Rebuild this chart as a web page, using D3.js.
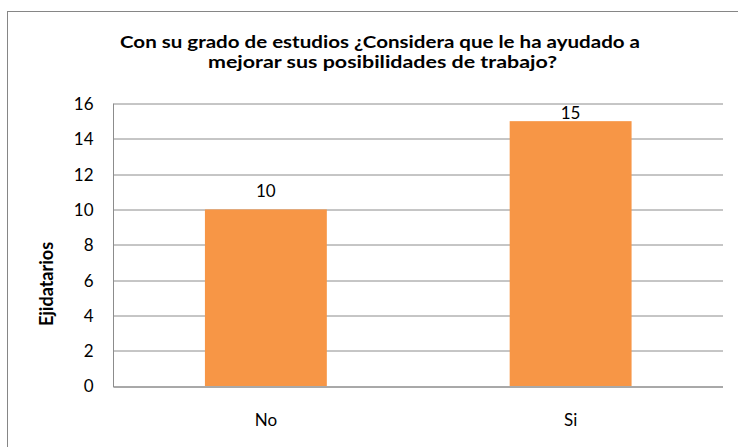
<!DOCTYPE html>
<html>
<head>
<meta charset="utf-8">
<script src="https://cdn.jsdelivr.net/npm/d3@7"></script>
<style>
  body { margin: 0; background: #fff; }
  text { font-family: Lato, "Open Sans", sans-serif; }
</style>
</head>
<body>
<svg width="738" height="447"></svg>
<script>
// data
var categories = ["No", "Si"];
var values = [10, 15];
var yTicks = [0, 2, 4, 6, 8, 10, 12, 14, 16];
var titleLines = ["Con su grado de estudios ¿Considera que le ha ayudado a",
                  "mejorar sus posibilidades de trabajo?"];
var yTitle = "Ejidatarios";

var svg = d3.select("svg"),
    width = +svg.attr("width"),
    height = +svg.attr("height");

var margin = {top: 103.5, right: 15, bottom: 61, left: 113.5};
var plotW = width - margin.left - margin.right,
    plotH = height - margin.top - margin.bottom;

// outer chart border (runs past the bottom and right of the picture)
svg.append("rect")
    .attr("x", 7.5).attr("y", 11.5)
    .attr("width", 760).attr("height", 460)
    .attr("fill", "none")
    .attr("stroke", "#868686")
    .attr("stroke-width", 1);

var x = d3.scaleBand()
    .domain(categories)
    .range([0, plotW])
    .padding(0);

var y = d3.scaleLinear()
    .domain([0, 16])
    .range([plotH, 0]);

var g = svg.append("g")
    .attr("transform", "translate(" + margin.left + "," + margin.top + ")");

// gridlines
g.append("g")
    .selectAll("line")
    .data(yTicks)
    .enter().append("line")
      .attr("x1", 0)
      .attr("x2", plotW)
      .attr("y1", function(d) { return Math.round(y(d)) + 0.5; })
      .attr("y2", function(d) { return Math.round(y(d)) + 0.5; })
      .attr("stroke", "#8c8c8c")
      .attr("stroke-width", 1);

// left axis line
g.append("line")
    .attr("x1", 0).attr("x2", 0)
    .attr("y1", 0).attr("y2", Math.round(plotH) + 0.5)
    .attr("stroke", "#8c8c8c");

// tick labels
g.append("g")
    .selectAll("text")
    .data(yTicks)
    .enter().append("text")
      .attr("x", -20)
      .attr("y", function(d) { return y(d); })
      .attr("dy", "0.38em")
      .attr("text-anchor", "end")
      .attr("font-size", "17px")
      .attr("fill", "#000")
      .text(function(d) { return d; });

// bars
var barW = x.bandwidth() * 0.4;
g.append("g")
    .selectAll("rect")
    .data(values)
    .enter().append("rect")
      .attr("x", function(d, i) { return x(categories[i]) + (x.bandwidth() - barW) / 2; })
      .attr("y", function(d) { return y(d); })
      .attr("width", barW)
      .attr("height", function(d) { return plotH - y(d); })
      .attr("fill", "#F79646");

// redraw baseline over bars
g.append("line")
    .attr("x1", 0).attr("x2", plotW)
    .attr("y1", Math.round(plotH) + 0.5).attr("y2", Math.round(plotH) + 0.5)
    .attr("stroke", "#8c8c8c");

// value labels (kept inside the plot top, like the original)
g.append("g")
    .selectAll("text")
    .data(values)
    .enter().append("text")
      .attr("x", function(d, i) { return x(categories[i]) + x.bandwidth() / 2; })
      .attr("y", function(d) { return Math.max(y(d) - 12, 15); })
      .attr("text-anchor", "middle")
      .attr("font-size", "17px")
      .text(function(d) { return d; });

// category labels
g.append("g")
    .selectAll("text")
    .data(categories)
    .enter().append("text")
      .attr("x", function(d) { return x(d) + x.bandwidth() / 2; })
      .attr("y", plotH + 40)
      .attr("text-anchor", "middle")
      .attr("font-size", "17px")
      .text(function(d) { return d; });

// y title
svg.append("text")
    .attr("transform", "translate(53,284) rotate(-90)")
    .attr("text-anchor", "middle")
    .attr("font-size", "18px")
    .attr("font-weight", "bold")
    .text(yTitle);

// title
var titleLen = [520, 349];
svg.append("g")
    .selectAll("text")
    .data(titleLines)
    .enter().append("text")
      .attr("x", function(d, i) { return i === 0 ? 120 : 208; })
      .attr("y", function(d, i) { return 48 + i * 20; })
      .attr("textLength", function(d, i) { return titleLen[i]; })
      .attr("lengthAdjust", "spacingAndGlyphs")
      .attr("font-size", "17px")
      .attr("font-weight", "bold")
      .text(function(d) { return d; });
</script>
</body>
</html>
